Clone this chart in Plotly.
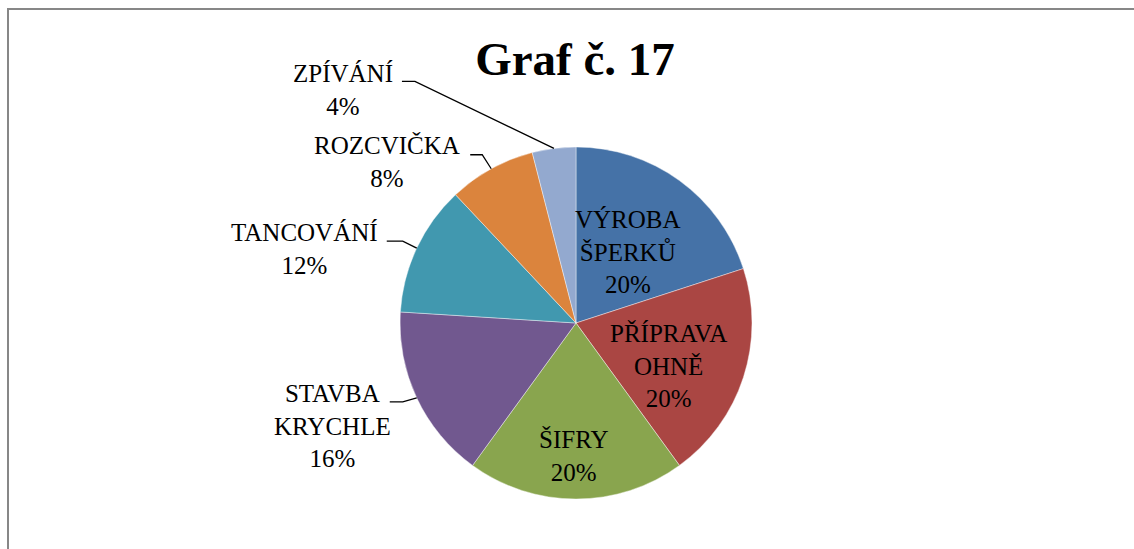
import math
import plotly.graph_objects as go

# ---- data ----
labels = ["VÝROBA<br>ŠPERKŮ", "PŘÍPRAVA<br>OHNĚ", "ŠIFRY", "STAVBA<br>KRYCHLE",
          "TANCOVÁNÍ", "ROZCVIČKA", "ZPÍVÁNÍ"]
values = [20, 20, 20, 16, 12, 8, 4]
colors = ["#4572A7", "#AA4643", "#89A54E", "#71588F", "#4198AF", "#DB843D", "#93A9CF"]
title_text = "Graf č. 17"

# ---- layout / style ----
W, H = 1134, 549
CX, CY, R = 576, 323, 176
FONT = '"Liberation Serif", serif'
LABEL_SIZE = 25

# label placement: ("in", radial fraction, (nudge x, nudge y)) or
# ("out", elbow offset from edge, text-center offset from elbow, horizontal leader length)
placement = [
    ("in", 0.50, (0, 0)),
    ("in", 0.58, (-5, 11)),
    ("in", 0.755, (-3, 0)),
    ("out", (-14, 4), (-70, 24), 13),
    ("out", (-14, -7), (-98, 8), 16),
    ("out", (-9, -14), (-95, 7), 12),
    ("out", (-139, -67), (-72, 9), 13),
]


def px(x):
    return x / W


def py(y):
    return 1 - y / H


fig = go.Figure(go.Pie(
    labels=[l.replace("<br>", " ") for l in labels],
    values=values,
    sort=False,
    direction="clockwise",
    rotation=0,
    textinfo="none",
    marker=dict(colors=colors, line=dict(color="rgba(255,255,255,0.6)", width=0.7)),
    domain=dict(x=[px(CX - R), px(CX + R)], y=[py(CY + R), py(CY - R)]),
    showlegend=False,
))

total = sum(values)
annotations = []
shapes = []
cum = 0
for lab, v, pl in zip(labels, values, placement):
    mid = (cum + v / 2) / total * 2 * math.pi
    cum += v
    s, c = math.sin(mid), math.cos(mid)
    text = f"{lab}<br>{round(v / total * 100)}%"
    if pl[0] == "in":
        f, (nx, ny) = pl[1], pl[2]
        tx, ty = CX + f * R * s + nx, CY - f * R * c + ny
    else:
        (ex, ey), (tdx, tdy), gap = pl[1], pl[2], pl[3]
        edx, edy = CX + R * s, CY - R * c
        elx, ely = edx + ex, edy + ey
        tx, ty = elx + tdx, ely + tdy
        path = (f"M {px(edx)},{py(edy)} L {px(elx)},{py(ely)} "
                f"L {px(elx - gap)},{py(ely)}")
        shapes.append(dict(type="path", xref="paper", yref="paper", path=path,
                           line=dict(color="black", width=1.3)))
    annotations.append(dict(x=px(tx), y=py(ty), xref="paper", yref="paper",
                            text=text, showarrow=False, align="center",
                            xanchor="center", yanchor="middle",
                            font=dict(family=FONT, size=LABEL_SIZE, color="black")))

# chart frame
shapes.append(dict(type="rect", xref="paper", yref="paper",
                   x0=px(8), y0=py(570), x1=px(1150), y1=py(9),
                   line=dict(color="#878787", width=2), fillcolor="rgba(0,0,0,0)"))

fig.update_layout(
    width=W, height=H,
    margin=dict(l=0, r=0, t=0, b=0),
    paper_bgcolor="white", plot_bgcolor="white",
    font=dict(family=FONT),
    title=dict(text=f"<b>{title_text}</b>", x=px(575), y=py(59),
               xanchor="center", yanchor="middle",
               font=dict(family=FONT, size=47, color="black")),
    annotations=annotations,
    shapes=shapes,
)

fig.write_html("out.html", config={"displayModeBar": False},
               post_script="document.body.style.margin='0';document.body.style.overflow='hidden';")
